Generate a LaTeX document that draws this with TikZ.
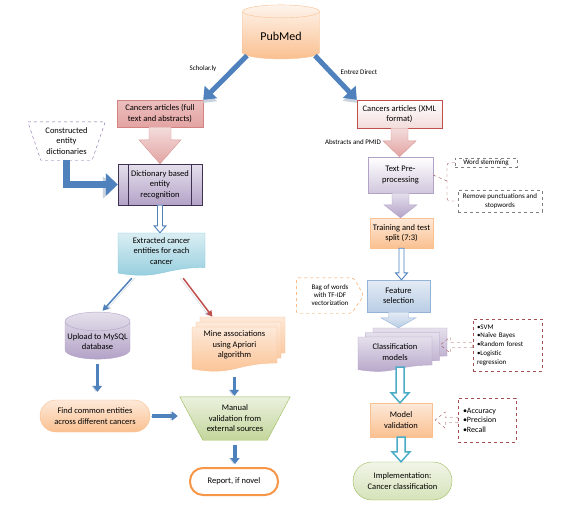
\documentclass[tikz,border=0pt]{standalone}
\usepackage{fontspec}
\setmainfont{Carlito}
\usetikzlibrary{arrows.meta,shapes,positioning,calc,backgrounds}
\definecolor{arrblue}{HTML}{4F81BD}
\definecolor{shadowgray}{HTML}{C9D3DF}
\definecolor{pinkline}{HTML}{C0504D}
\definecolor{pinkfill}{HTML}{E3A4A3}
\definecolor{pinklight}{HTML}{F2DCDB}
\definecolor{purpline}{HTML}{8064A2}
\definecolor{purpfill}{HTML}{B3A2C7}
\definecolor{purplight}{HTML}{E5E0EC}
\definecolor{navyline}{HTML}{3F3151}
\definecolor{orangeline}{HTML}{F79646}
\definecolor{orangefill}{HTML}{FAC090}
\definecolor{orangelight}{HTML}{FDE9D9}
\definecolor{greenline}{HTML}{9BBB59}
\definecolor{greenfill}{HTML}{C3D69B}
\definecolor{greenlight}{HTML}{EBF1DE}
\definecolor{cyanline}{HTML}{4BACC6}
\definecolor{cyanfill}{HTML}{8FCBDC}
\definecolor{cyanlight}{HTML}{DAEEF3}
\definecolor{skyline}{HTML}{95B3D7}
\definecolor{skyfill}{HTML}{B9CDE5}
\definecolor{skylight}{HTML}{E4ECF5}
\definecolor{dashred}{HTML}{A05050}

\newcommand{\vblock}[6]{%
  \path[#6] let \p1=(#1), \p2=(#2) in
    (\x1-#3,\y1) -- (\x1-#3,\y2+#5) -- (\x1-#4,\y2+#5) -- (\x1,\y2)
    -- (\x1+#4,\y2+#5) -- (\x1+#3,\y2+#5) -- (\x1+#3,\y1) -- cycle;}
\newcommand{\hblock}[6]{%
  \path[#6] let \p1=(#1), \p2=(#2) in
    (\x1,\y1-#3) -- (\x2+#5,\y1-#3) -- (\x2+#5,\y1-#4) -- (\x2,\y1)
    -- (\x2+#5,\y1+#4) -- (\x2+#5,\y1+#3) -- (\x1,\y1+#3) -- cycle;}

\tikzset{pics/docpage/.style 2 args={code={%
  \path[pic actions] (0,0) -- (#1,0) -- (#1,0.8*#2)
    .. controls (0.5*#1,0.8*#2) and (0.5*#1,1.1*#2) .. (0,0.93*#2) -- cycle;}}}

\begin{document}
\begin{tikzpicture}[x=1pt, y=-1pt,
    every node/.style={font=\fontsize{8.5}{10.5}\selectfont, align=center, inner sep=1pt},
    flowlabel/.style={font=\fontsize{7}{8}\selectfont},
    notebox/.style={draw=gray, dashed, font=\fontsize{7}{8.5}\selectfont},
    listbox/.style={draw=dashred, dashed, align=left, inner sep=4pt},
    orangebox/.style={draw=orangeline!60, top color=orangelight, bottom color=orangefill},
    purplebox/.style={draw=purpline!60, top color=purplight, bottom color=purpfill},
    greenbox/.style={draw=greenline, top color=greenlight, bottom color=greenfill},
    skybox/.style={draw=skyline, top color=skylight, bottom color=skyfill},
    fatarrow/.style={draw=arrblue, line width=5pt, -{Triangle[length=11pt,width=17pt]},
      preaction={draw=shadowgray, transform canvas={shift={#1}}}},
    fatarrow/.default={(0pt,-3pt)},
    linkarrow/.style={line width=1.5pt, -{Triangle[length=6pt,width=6pt]},
      preaction={draw=shadowgray, transform canvas={shift={#1}}}},
    smallarrow/.style={draw=arrblue, line width=3.5pt, -{Triangle[length=6pt,width=9pt]},
      preaction={draw=shadowgray, transform canvas={shift={(-1.5pt,0pt)}}}}]
  \useasboundingbox (0,0) rectangle (575,515);

  % SOURCE
  \node[cylinder, shape border rotate=90, aspect=0.3, minimum width=77, minimum height=54,
    draw=orangeline!60, top color=orangelight!50, bottom color=orangefill,
    font=\fontsize{12}{14}\selectfont] (pub) at (281,36) {PubMed};
  \node[flowlabel] (lbsch) at (203,69) {Scholar.ly};
  \node[flowlabel] (lbent) at (359,72) {Entrez Direct};

  % LEFT BRANCH
  \node[draw=pinkline!70, top color=pinkfill!70, bottom color=pinkfill, minimum width=86, minimum height=27] (art1) at (160,113.5) {Cancers articles (full\\text and abstracts)};
  \node[minimum width=77, minimum height=38] (cons) at (66.5,141) {Constructed\\entity\\dictionaries};
  \draw[purpline, dashed] (cons.north west) -- (cons.north east) -- ([xshift=-13]cons.south east) -- ([xshift=13]cons.south west) -- cycle;
  \node[draw=navyline, top color=purplight, bottom color=purpfill, minimum width=84, minimum height=41] (dict) at (160,184.5) {Dictionary based\\entity\\recognition};
  \draw[navyline] ([xshift=10]dict.north west) -- ([xshift=10]dict.south west)
    ([xshift=-11]dict.north east) -- ([xshift=-11]dict.south east);
  \node[minimum width=87, minimum height=36] (ext) at (161.5,251) {Extracted cancer\\entities for each\\cancer};
  \node[cylinder, shape border rotate=90, aspect=0.3, minimum width=65, minimum height=47,
    draw=purpline!60, top color=purplight, bottom color=purpfill] (up) at (97.5,341.5) {Upload to MySQL\\database};
  \node[minimum width=85, minimum height=36] (mine) at (234.5,345) {Mine associations\\using Apriori\\algorithm};
  \node[orangebox, rounded corners=16, minimum width=110, minimum height=32] (find) at (95,416) {Find common entities\\across different cancers};
  \node[minimum width=110, minimum height=43] (man) at (235,418.5) {Manual\\validation from\\external sources};
  \node[draw=orangeline, line width=2pt, fill=white, rounded corners=13, minimum width=88, minimum height=27] (rep) at (234,481.5) {Report, if novel};

  % RIGHT BRANCH
  \node[draw=pinkline, top color=white, bottom color=pinklight, minimum width=85, minimum height=28] (art2) at (399.5,114) {Cancers articles (XML\\format)};
  \node[flowlabel] (lbabs) at (353,142) {Abstracts and PMID};
  \node[draw=purpfill, top color=white, bottom color=purplight!60!purpfill, minimum width=65, minimum height=36] (pre) at (400.5,175) {Text Pre-\\processing};
  \node[notebox, minimum width=62, minimum height=9] (ws) at (486,162.5) {Word stemming};
  \node[notebox, minimum width=84, minimum height=22] (rm) at (500,201) {Remove punctuations and\\stopwords};
  \node[orangebox, minimum width=63, minimum height=30] (trn) at (401.5,233) {Training and test\\split (7:3)};
  \node[flowlabel, minimum width=67, minimum height=35] (bag) at (330,295.5) {Bag of words\\with TF-IDF\\vectorization};
  \draw[orangeline, dashed, rounded corners=2] (bag.north west) -- ([xshift=-10]bag.north east) -- (bag.east) -- ([xshift=-12]bag.south east) -- (bag.south west) -- cycle;
  \node[skybox, minimum width=63, minimum height=32] (feat) at (398.5,296) {Feature\\selection};
  \node[minimum width=74, minimum height=30] (cls) at (395,352) {Classification\\models};
  \node[listbox, font=\fontsize{7}{8.8}\selectfont, minimum width=69, minimum height=52, text width=61] (lst1) at (507.5,345) {•SVM\\•Naïve Bayes\\•Random forest\\•Logistic\\regression};
  \node[orangebox, minimum width=62, minimum height=34] (mv) at (401,420) {Model\\validation};
  \node[listbox, font=\fontsize{8}{9.5}\selectfont, minimum width=58, minimum height=44, text width=48] (lst2) at (487,420) {•Accuracy\\•Precision\\•Recall};
  \node[greenbox, top color=greenlight!70, bottom color=greenfill!70, rounded corners=19, minimum width=99, minimum height=38] (impl) at (402.5,481) {Implementation:\\Cancer classification};

  % SHAPES BEHIND
  \begin{scope}[on background layer]
    \pic[draw=cyanline!70, top color=cyanlight, bottom color=cyanfill] at (118,233) {docpage={87}{43}};
    \foreach \d in {8,4,0}
      \pic[draw=orangeline!60, top color=orangelight, bottom color=orangefill] at (192+\d,327-1.25*\d) {docpage={85}{45}};
    \foreach \d in {15,7.5,0}
      \pic[draw=purpline!60, top color=purplight, bottom color=purpfill] at (358+\d,337-0.6*\d) {docpage={74}{35}};
    \path[greenbox] (man.north west) -- (man.north east) -- ([xshift=-23]man.south east) -- ([xshift=23]man.south west) -- cycle;
  \end{scope}

  % CONNECTORS
  \draw[fatarrow] (pub.210) -- (art1.north east);
  \draw[fatarrow] (pub.-30) -- (art2.north west);
  \draw[fatarrow={(-3pt,-3pt)}, line width=7pt, -{Triangle[length=12pt,width=22pt]}] (cons.south) |- (dict.west);
  \vblock{art1.south}{dict.north}{11pt}{21pt}{24pt}{draw=pinkline!60, top color=pinklight, bottom color=pinkfill}
  \vblock{dict.south}{ext.north}{2.5pt}{6pt}{7pt}{draw=arrblue, fill=white, line width=0.9pt}
  \draw[linkarrow={(3pt,0pt)}, draw=arrblue] ([shift={(14,9)}]ext.south west) -- ([shift={(5,-1)}]up.north);
  \draw[linkarrow={(-3pt,0pt)}, draw=pinkline] ([shift={(-22,9)}]ext.south east) -- ([shift={(-22,-10)}]mine.north);
  \draw[smallarrow, shorten <=5pt, shorten >=8pt] (up.south) -- (up.south |- find.north);
  \draw[smallarrow, shorten <=14pt, shorten >=1pt] (mine.south) -- (mine.south |- man.north);
  \draw[smallarrow, shorten <=5pt, shorten >=3pt] (man.south) -- (man.south |- rep.north);
  \draw[smallarrow, shorten <=2pt, shorten >=2pt] (find.east) -- (find.east -| man.west);

  \vblock{art2.south}{pre.north}{8.5pt}{16.5pt}{16pt}{draw=pinkline!60, top color=pinklight, bottom color=pinkfill}
  \coordinate (brc) at (447,181);
  \draw[dashred, dashed, rounded corners=3] (ws.west) -| (brc) |- (rm.west);
  \draw[dashred, dashed] (pre.east) -- (brc);
  \vblock{pre.south}{trn.north}{8.5pt}{16.5pt}{13pt}{draw=purpfill, top color=purplight, bottom color=purpfill}
  \vblock{trn.south}{feat.north}{2.5pt}{6pt}{7pt}{draw=arrblue, fill=white, line width=0.9pt}
  \vblock{feat.south}{[yshift=9]cls.north}{10pt}{17.5pt}{10pt}{draw=skyline, top color=skylight, bottom color=skyfill}
  \vblock{[xshift=5]cls.south}{mv.north}{4pt}{9pt}{10pt}{draw=cyanline, fill=white, line width=1.5pt}
  \vblock{mv.south}{impl.north}{4pt}{9pt}{10pt}{draw=cyanline, fill=white, line width=1.5pt}
  \hblock{lst1.west}{[xshift=8]cls.east}{2.5pt}{8pt}{10pt}{draw=dashred, dashed}
  \hblock{lst2.west}{[xshift=3]mv.east}{2.5pt}{8pt}{10pt}{draw=dashred, dashed}
\end{tikzpicture}
\end{document}
